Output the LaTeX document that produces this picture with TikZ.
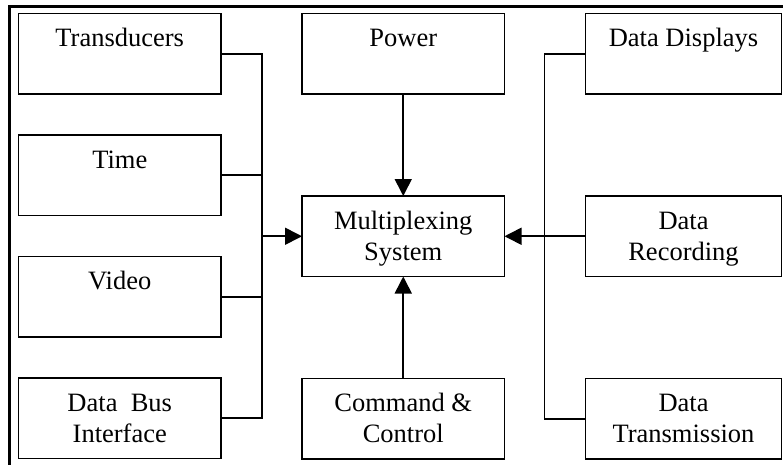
\documentclass[tikz,border=0pt]{standalone}
\usepackage{fontspec}
\setmainfont{Liberation Serif}
\usetikzlibrary{positioning,arrows.meta}

\begin{document}
\begin{tikzpicture}
    [
      x=1pt,
      y=-1pt,
      line width=1.6pt,
      block/.style=
      {
        draw,
        align=center,
        inner sep=0pt,
        outer sep=0pt,
        minimum height=80.5pt,
        minimum width=202.5pt,
        text height=48pt,
        text depth=0pt,
        fill=white,
        text=black,
        font=\fontsize{26.5}{31}\selectfont
      },
      sideblock/.style=
      {
        block,
        minimum width=196pt
      },
      feed/.style=
      {
        -{Triangle[length=17pt,width=17pt]}
      }
    ]
    \clip (0,0) rectangle (783,464);
    \draw[line width=2.4pt] (9.5,6.5) rectangle (800,480);

    % left column
    \node[block] (Transducers) at (119.75,53.75) {Transducers\\~};
    \node[block, below=41pt of Transducers] (Time) {Time\\~};
    \node[block, below=41pt of Time] (Video) {Video\\~};
    \node[block, below=41pt of Video] (DataBus) {Data~~Bus\\Interface};

    % middle column
    \node[block, right=81pt of Transducers] (Power) {Power\\~};
    \node[block, below=102pt of Power] (Mux) {Multiplexing\\System};
    \node[block, below=102pt of Mux] (Command) {Command \&\\Control};

    % right column
    \node[sideblock, right=81pt of Power] (Displays) {Data Displays\\~};
    \node[sideblock, right=81pt of Mux] (Recording) {Data\\Recording};
    \node[sideblock, right=81pt of Command] (Transmission) {Data\\Transmission};

    \coordinate[left=40pt of Mux] (InHub);
    \coordinate[right=40pt of Mux] (OutHub);

    % inputs
    \draw (Transducers.east) -| (InHub);
    \draw (DataBus.east) -| (InHub);
    \draw (Time.east) -- (Time.east -| InHub);
    \draw (Video.east) -- (Video.east -| InHub);
    \draw[feed] (InHub) -- (Mux.west);
    \draw[feed] (Power) -- (Mux);
    \draw[feed] (Command) -- (Mux);

    % outputs
    \draw (Displays.west) -| (OutHub);
    \draw (Transmission.west) -| (OutHub);
    \draw[feed] (Recording.west) -- (Mux.east);
\end{tikzpicture}
\end{document}
